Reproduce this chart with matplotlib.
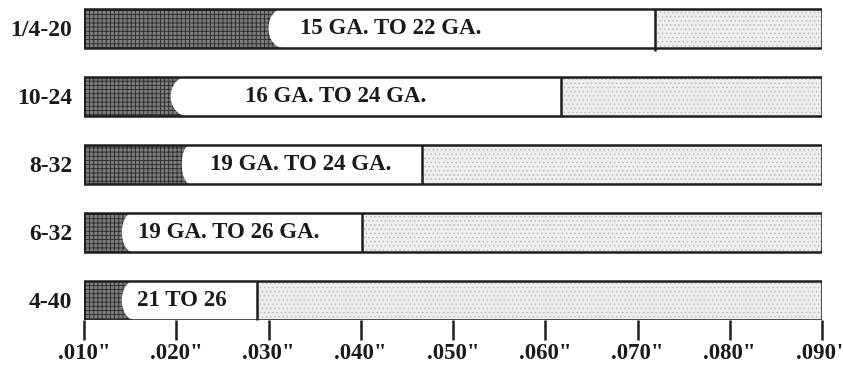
import numpy as np
import matplotlib
matplotlib.use("Agg")
import matplotlib.pyplot as plt
from matplotlib.patches import Rectangle, PathPatch
from matplotlib.path import Path

# ---- data ----
threads = ["1/4-20", "10-24", "8-32", "6-32", "4-40"]
gauge_labels = ["15 GA. TO 22 GA.", "16 GA. TO 24 GA.", "19 GA. TO 24 GA.",
                "19 GA. TO 26 GA.", "21 TO 26"]
white_start = [0.0300, 0.0194, 0.0206, 0.0141, 0.0141]   # where the white (label) zone begins
dark_end = [0.0316, 0.0212, 0.0215, 0.0153, 0.0155]      # where the dark texture ends
divider = [0.0719, 0.0617, 0.0466, 0.0401, 0.0288]       # end of the white zone
label_x = [0.0334, 0.0275, 0.0237, 0.0159, 0.0157]       # left edge of the label text
range_min = 0.010
range_max = 0.090
tick_values = [0.010, 0.020, 0.030, 0.040, 0.050, 0.060, 0.070, 0.080, 0.090]
tick_labels = ['.010"', '.020"', '.030"', '.040"', '.050"', '.060"', '.070"', '.080"', '.090"']

# ---- style ----
W, H = 843, 367
DPI = 100
FONT = "Liberation Serif"
bar_h = 0.58
lw = 1.8

plt.rcParams["hatch.linewidth"] = 0.6

fig = plt.figure(figsize=(W / DPI, H / DPI), dpi=DPI)
x0_px, x1_px = 84, 822
y_bottom_px = 320
y_top_px = 4
ax = fig.add_axes([x0_px / W, (H - y_bottom_px) / H, (x1_px - x0_px) / W,
                   (y_bottom_px - y_top_px) / H])
ax.set_xlim(range_min, range_max)
n = len(threads)
ys = np.arange(n)[::-1].astype(float)
ax.set_ylim(-bar_h / 2, (y_bottom_px - y_top_px) / 68.0 - bar_h / 2)

for i in range(n):
    y = ys[i]
    yb, yt = y - bar_h / 2, y + bar_h / 2
    # light stipple zone
    ax.add_patch(Rectangle((divider[i], yb), range_max - divider[i], bar_h,
                           facecolor="#eeeeee", edgecolor="none", zorder=1))
    ax.add_patch(Rectangle((divider[i], yb), range_max - divider[i], bar_h,
                           fill=False, hatch="....", edgecolor="#bdbdbd", linewidth=0, zorder=1.1))
    # dark stipple zone
    ax.add_patch(Rectangle((range_min, yb), dark_end[i] - range_min, bar_h,
                           facecolor="#7c7c7c", edgecolor="none", zorder=2))
    ax.add_patch(Rectangle((range_min, yb), dark_end[i] - range_min, bar_h,
                           fill=False, hatch="++++", edgecolor="#2a2a2a", linewidth=0, zorder=2.1))
    # white label zone with rounded left end
    rx = dark_end[i] - white_start[i]
    t = np.linspace(np.pi / 2, 3 * np.pi / 2, 40)
    arc_x = dark_end[i] + rx * np.cos(t)
    arc_y = y + (bar_h / 2) * np.sin(t)
    verts = [(divider[i], yt)] + list(zip(arc_x, arc_y)) + [(divider[i], yb), (divider[i], yt)]
    codes = [Path.MOVETO] + [Path.LINETO] * (len(verts) - 2) + [Path.CLOSEPOLY]
    ax.add_patch(PathPatch(Path(verts, codes), facecolor="white", edgecolor="none", zorder=3))
    # outline + divider
    ax.add_patch(Rectangle((range_min, yb), range_max - range_min, bar_h,
                           fill=False, edgecolor="#1e1e1e", linewidth=lw, zorder=4))
    ax.plot([divider[i], divider[i]], [yb - (0.05 if i == 0 else 0), yt], color="#1e1e1e",
            linewidth=lw, solid_capstyle="butt", zorder=4, clip_on=False)
    ax.text(label_x[i], y, gauge_labels[i], ha="left", va="center", family=FONT,
            fontweight="bold", fontsize=16.5, color="#1a1a1a", zorder=5)

for s in ax.spines.values():
    s.set_visible(False)
ax.set_xticks(tick_values)
ax.set_xticklabels(tick_labels, family=FONT, fontweight="bold", fontsize=16.5, color="#1a1a1a")
ax.tick_params(axis="x", direction="out", length=14.4, width=1.8, color="#1e1e1e", pad=2)
ax.set_yticks(ys)
ax.set_yticklabels(threads, family=FONT, fontweight="bold", fontsize=17, color="#1a1a1a")
ax.tick_params(axis="y", length=0, pad=8.5)

fig.savefig("out.png", dpi=DPI, facecolor="white")
